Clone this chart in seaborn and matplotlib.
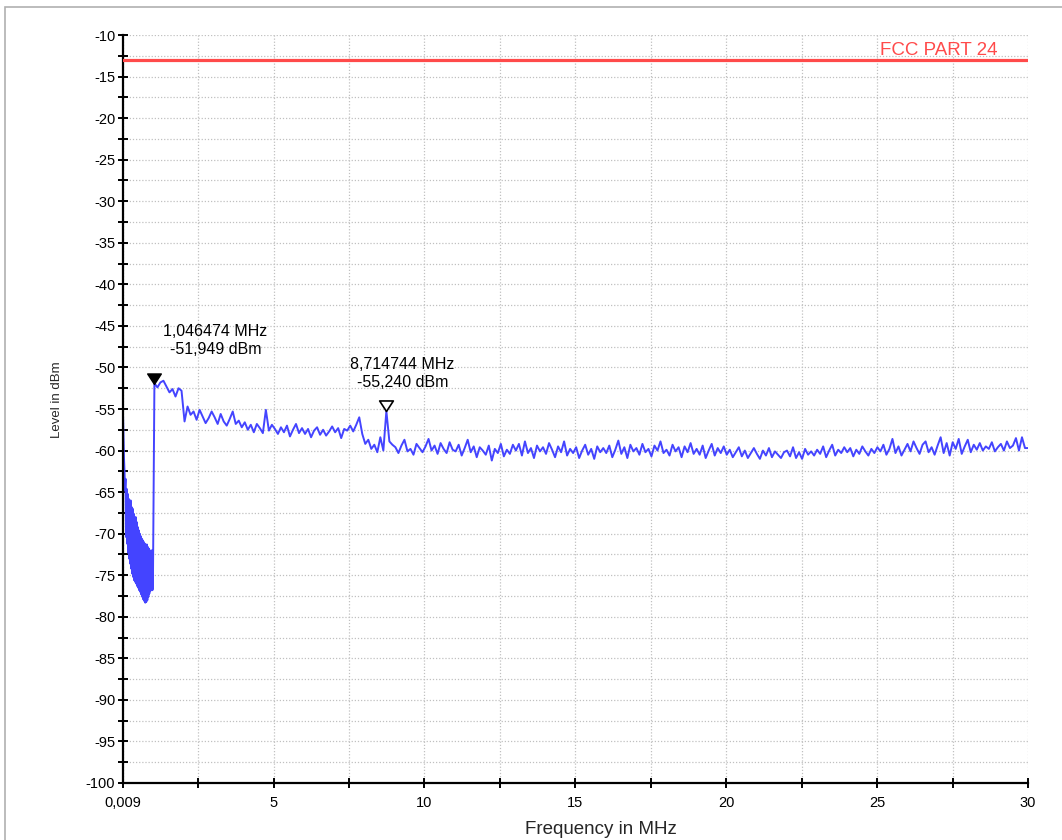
import numpy as np
import pandas as pd
import matplotlib.pyplot as plt
import seaborn as sns
from matplotlib.patches import Rectangle
from matplotlib.path import Path

# spectrum trace below 1 MHz (dense ripple region)
low_band_levels = [
    -55.6, -58.4, -61.0, -62.5, -64.8, -63.4, -70.4, -64.6, -71.2, -65.2,
    -72.3, -65.8, -73.0, -66.2, -73.6, -66.0, -74.2, -66.8, -74.8, -67.0,
    -75.2, -67.6, -75.6, -68.2, -75.8, -68.0, -76.0, -68.6, -76.3, -69.2,
    -76.5, -69.6, -76.8, -70.0, -77.0, -70.3, -77.3, -70.6, -77.6, -70.8,
    -77.9, -71.0, -78.1, -71.2, -78.3, -71.4, -78.2, -71.3, -78.0, -71.6,
    -77.6, -71.8, -77.2, -72.0, -76.9, -72.2, -76.6, -72.0, -76.8, -76.5,
]
low_band_start, low_band_stop = 0.009, 1.0

# trace from ~1.05 MHz to 30 MHz, ten samples per MHz
high_band_levels = [
    -51.9, -52.4, -51.8, -51.6, -52.3, -53.0, -52.6, -53.5, -52.5, -52.8,
    -56.5, -54.7, -55.7, -55.3, -56.3, -55.1, -55.9, -56.7, -56.1, -55.3,
    -56.0, -56.8, -55.6, -56.5, -57.0, -56.2, -55.3, -56.8, -56.4, -57.2,
    -56.6, -57.5, -56.9, -57.8, -56.8, -57.3, -57.9, -55.1, -57.6, -56.9,
    -57.4, -58.0, -57.2, -57.8, -57.0, -58.3, -57.5, -56.8, -57.9, -57.3,
    -58.0, -57.4, -58.4, -57.6, -57.2, -58.1, -57.5, -58.2, -57.7, -57.1,
    -57.8, -57.3, -58.5, -57.4, -57.6, -57.0, -57.7, -56.9, -56.0, -58.0,
    -59.2, -58.7, -59.8, -59.3, -60.2, -58.4, -60.0, -55.24, -58.9, -59.3,
    -59.6, -60.3, -59.4, -58.7, -60.1, -59.8, -60.5, -59.2, -59.7, -60.2,
    -59.5, -58.6, -60.0, -59.4, -60.4, -59.1, -59.8, -60.3, -59.0, -59.9,
    -60.1, -59.3, -60.6, -59.7, -58.7, -60.2, -59.5, -60.8, -59.6, -60.0,
    -60.5, -59.4, -61.2, -59.8, -60.3, -59.2, -60.7, -59.9, -60.4, -59.3,
    -60.0, -59.2, -60.6, -58.9, -60.3, -59.7, -60.9, -59.4, -60.1, -59.6,
    -60.4, -59.1, -59.9, -60.8, -59.5, -60.2, -58.9, -60.6, -59.8, -60.3,
    -59.6, -60.9, -60.0, -59.3, -60.5, -59.8, -61.0, -59.5, -60.2, -59.7,
    -60.3, -59.4, -60.8, -59.9, -58.8, -60.4, -59.6, -60.9, -59.3, -60.1,
    -59.7, -60.5, -59.2, -60.2, -59.8, -60.7, -59.4, -60.0, -58.9, -60.3,
    -59.9, -60.6, -59.3, -60.1, -59.6, -60.8, -59.5, -60.2, -59.1, -60.4,
    -59.8, -60.5, -59.4, -60.9, -60.0, -59.2, -60.6, -59.7, -60.3, -59.5,
    -60.5, -59.9, -60.8, -60.2, -59.6, -60.7, -60.0, -60.9, -60.3, -59.7,
    -60.4, -61.0, -60.0, -60.6, -59.7, -60.8, -60.1, -60.5, -60.9, -60.2,
    -60.0, -60.7, -59.6, -60.9, -60.2, -61.0, -59.8, -60.5, -60.1, -60.6,
    -59.9, -60.4, -59.5, -60.8, -60.0, -59.3, -60.6, -59.9, -60.3, -59.6,
    -60.2, -59.7, -60.7, -59.9, -60.4, -59.5, -60.1, -60.6, -59.8, -60.3,
    -59.6, -60.1, -59.3, -60.5, -59.8, -58.6, -60.3, -59.5, -60.6, -59.9,
    -59.2, -60.1, -58.9, -59.7, -60.4, -59.3, -58.9, -60.2, -59.6, -60.5,
    -59.4, -58.4, -60.3, -59.1, -60.6, -59.0, -59.8, -58.6, -60.4, -59.5,
    -58.7, -60.2, -59.3, -59.9, -59.1, -60.0, -59.5, -59.8, -59.0, -60.1,
    -59.6, -59.2, -60.0, -58.9, -59.7, -59.4, -58.5, -60.0, -58.4, -59.7,
    -59.7,
]
high_band_start, high_band_stop = 1.05, 30.0

limit_level = -13
limit_label = "FCC PART 24"

marker_freqs = [1.046474, 8.714744]
marker_levels = [-51.949, -55.240]
marker_texts = ["1,046474 MHz\n-51,949 dBm", "8,714744 MHz\n-55,240 dBm"]

x_ticks = [0.009, 5, 10, 15, 20, 25, 30]
x_tick_labels = ["0,009", "5", "10", "15", "20", "25", "30"]
x_minor = [2.5, 7.5, 12.5, 17.5, 22.5, 27.5]
y_ticks = list(range(-100, -5, 5))

freq = np.concatenate([
    np.linspace(low_band_start, low_band_stop, len(low_band_levels)),
    np.linspace(high_band_start, high_band_stop, len(high_band_levels)),
])
df = pd.DataFrame({"freq": freq, "level": low_band_levels + high_band_levels})

sns.set_theme(style="white")
plt.rcParams["font.family"] = ["Liberation Sans", "DejaVu Sans"]

fig = plt.figure(figsize=(10.62, 8.4), dpi=100)
ax = fig.add_axes([123 / 1062, 1 - 783 / 840, 905 / 1062, 748 / 840])

sns.lineplot(data=df, x="freq", y="level", ax=ax, color="#4444ff",
             linewidth=1.4, sort=False, estimator=None)
ax.axhline(limit_level, color="#ff4a4a", linewidth=2.3, zorder=3)
ax.text(25.1, limit_level + 0.1, limit_label, color="#ff4a4a", fontsize=13.5,
        ha="left", va="bottom", clip_on=False)

# triangle markers with the tip on the trace point
tip = Path([(0, 0), (-0.65, 1), (0.65, 1), (0, 0)],
           [Path.MOVETO, Path.LINETO, Path.LINETO, Path.CLOSEPOLY])
ax.scatter(marker_freqs[:1], marker_levels[:1], marker=tip, s=230,
           facecolor="black", edgecolor="black", linewidth=1, zorder=5)
ax.scatter(marker_freqs[1:], marker_levels[1:], marker=tip, s=230,
           facecolor="white", edgecolor="black", linewidth=1.2, zorder=5)

offsets = [(44, 31), (12, 27)]
for f, lv, txt, off in zip(marker_freqs, marker_levels, marker_texts, offsets):
    ax.annotate(txt, (f, lv), xytext=off, textcoords="offset points",
                ha="center", va="center", fontsize=11.5, linespacing=1.3,
                multialignment="center", color="black")

ax.set_xlim(0.009, 30)
ax.set_ylim(-100, -10)
ax.set_xticks(x_ticks)
ax.set_xticklabels(x_tick_labels)
ax.set_xticks(x_minor, minor=True)
ax.set_yticks(y_ticks)
ax.set_yticklabels([f"-{abs(v)}" for v in y_ticks])
ax.set_yticks(np.arange(-97.5, -10, 5), minor=True)

ax.grid(True, which="both", color="#c0c0c0", linestyle=(0, (1, 1.5)), linewidth=0.9)
ax.set_axisbelow(True)
for side in ["top", "right"]:
    ax.spines[side].set_visible(False)
for side in ["left", "bottom"]:
    ax.spines[side].set_color("black")
    ax.spines[side].set_linewidth(1.6)

ax.tick_params(which="both", direction="inout", length=7, width=1.4,
               color="black", labelsize=10.5, labelcolor="black")
ax.tick_params(axis="x", which="both", pad=6)
ax.tick_params(axis="y", which="both", pad=2)
ax.tick_params(which="both", left=True, bottom=True)

ax.set_xlabel("")
ax.set_ylabel("")
fig.text(601 / 1062, 1 - 830 / 840, "Frequency in MHz", ha="center", va="center",
         fontsize=13.5)
fig.text(57 / 1062, 1 - 400 / 840, "Level in dBm", ha="center", va="center",
         rotation=90, fontsize=9.5)

# light gray frame around the chart window
fig.add_artist(Rectangle((5 / 1062, -0.05), 1.0, 1 - 7 / 840 + 0.05,
                         transform=fig.transFigure, fill=False,
                         edgecolor="#b0b0b0", linewidth=1.2))

fig.savefig("out.png", dpi=100)
